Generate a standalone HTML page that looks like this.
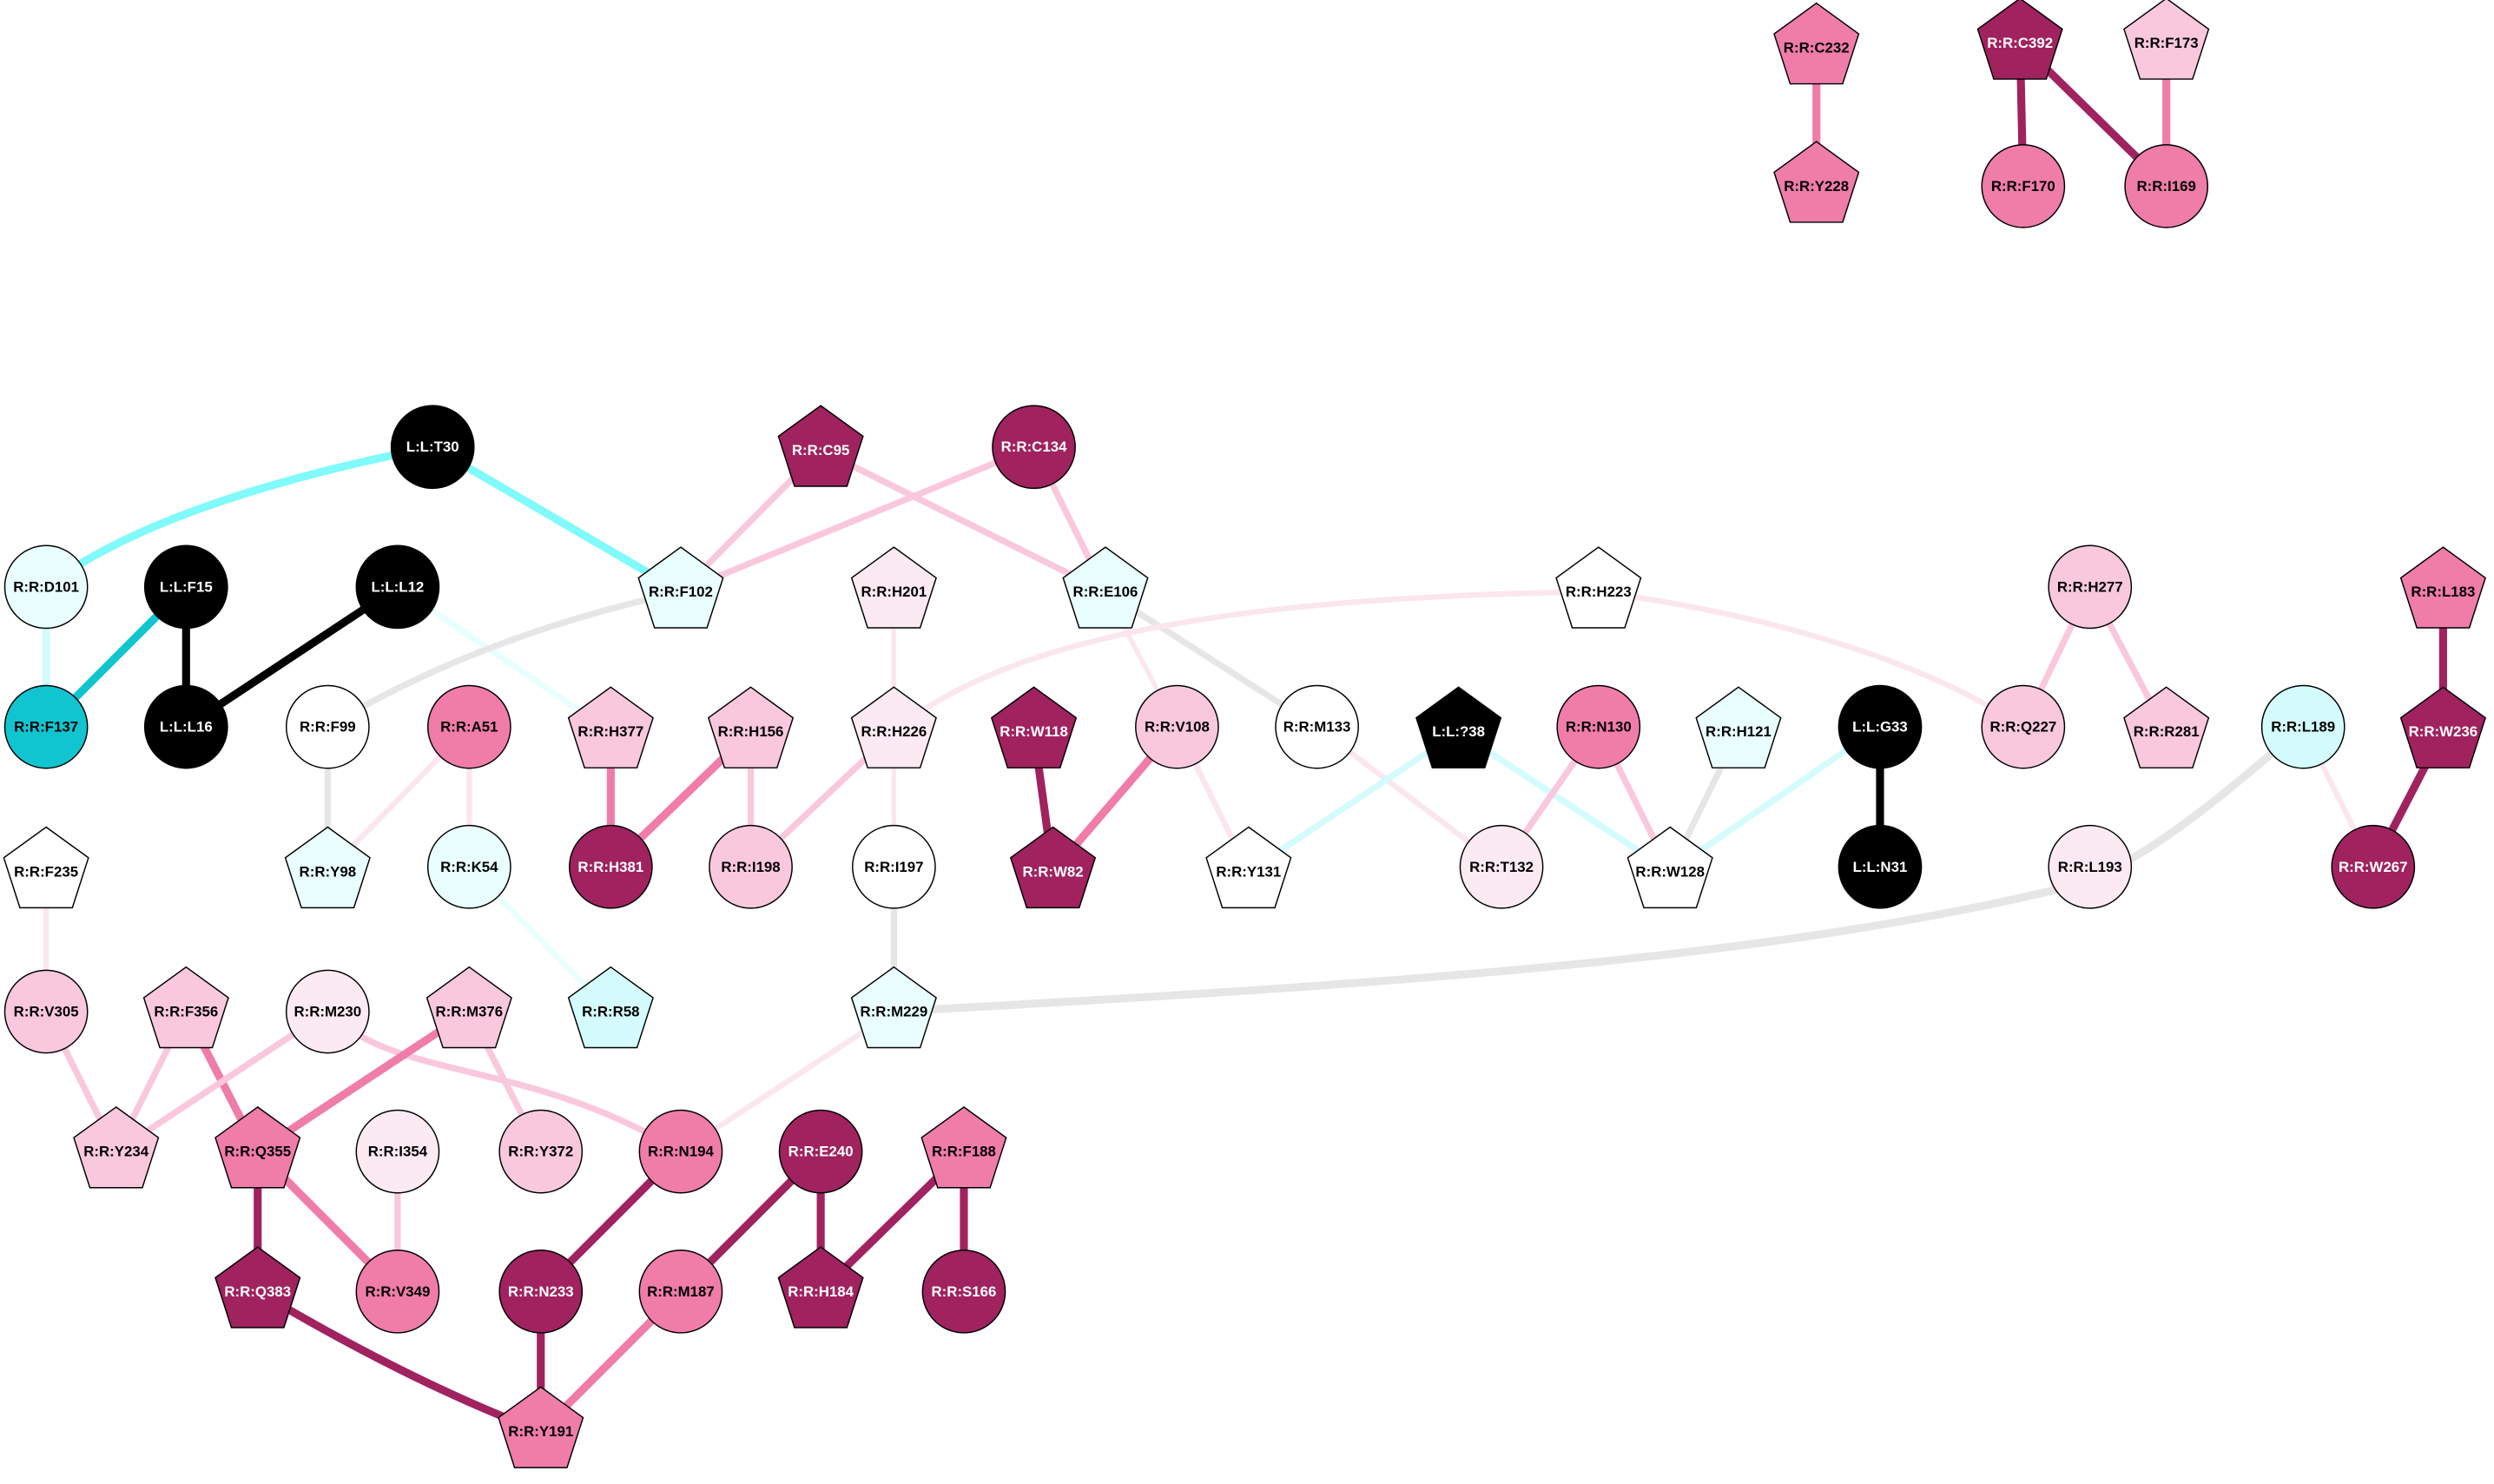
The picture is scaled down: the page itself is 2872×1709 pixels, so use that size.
<!DOCTYPE html>
<html><head><meta charset="utf-8"><style>
html,body{margin:0;padding:0;background:#fff}
svg{display:block}
text{font-family:"Liberation Sans",Arial,sans-serif;font-weight:bold;font-size:9.2px;text-anchor:middle;dominant-baseline:central}
.w{fill:#fff}
line,path{fill:none;stroke-linecap:butt}
circle,polygon{stroke:#000;stroke-width:0.8}
</style></head><body>
<svg width="2872" height="1709" viewBox="0 0 1568 933" xmlns="http://www.w3.org/2000/svg">
<defs>
<polygon id="p" points="0,-28 26.6,-8.7 16.5,22.7 -16.5,22.7 -26.6,-8.7"/>
</defs>
<g id="edges">
<line x1="1142" y1="30" x2="1142" y2="117" stroke="#f07ca8" stroke-width="5"/>
<line x1="1270" y1="27" x2="1272" y2="117" stroke="#a0225f" stroke-width="5"/>
<line x1="1270" y1="27" x2="1362" y2="117" stroke="#a0225f" stroke-width="5"/>
<line x1="1362" y1="27" x2="1362" y2="117" stroke="#f07ca8" stroke-width="5"/>
<path d="M29 369 Q 100 315 272 281" stroke="#80fafa" stroke-width="5"/>
<line x1="272" y1="281" x2="428" y2="372" stroke="#80fafa" stroke-width="5"/>
<line x1="29" y1="369" x2="29" y2="457" stroke="#d4fcfc" stroke-width="5"/>
<line x1="117" y1="369" x2="29" y2="457" stroke="#10c5d0" stroke-width="5"/>
<line x1="117" y1="369" x2="117" y2="457" stroke="#000" stroke-width="5"/>
<line x1="250" y1="369" x2="117" y2="457" stroke="#000" stroke-width="5"/>
<line x1="250" y1="369" x2="384" y2="460" stroke="#e9fefe" stroke-width="4"/>
<line x1="516" y1="283" x2="428" y2="372" stroke="#f9c8dc" stroke-width="4"/>
<line x1="516" y1="283" x2="695" y2="372" stroke="#f9c8dc" stroke-width="4"/>
<line x1="650" y1="281" x2="428" y2="372" stroke="#f9c8dc" stroke-width="4"/>
<line x1="650" y1="281" x2="695" y2="372" stroke="#f9c8dc" stroke-width="4"/>
<path d="M428 372 Q 300 400 206 457" stroke="#e6e6e6" stroke-width="4"/>
<line x1="695" y1="372" x2="828" y2="457" stroke="#e6e6e6" stroke-width="4"/>
<line x1="695" y1="372" x2="740" y2="457" stroke="#fbe6ef" stroke-width="3"/>
<line x1="562" y1="372" x2="562" y2="460" stroke="#fbe6ef" stroke-width="3"/>
<path d="M1005 372 C 800 375 640 395 562 460" stroke="#fbe6ef" stroke-width="3.5"/>
<path d="M1005 372 C 1100 385 1200 410 1272 457" stroke="#fbe6ef" stroke-width="3.5"/>
<line x1="1314" y1="369" x2="1272" y2="457" stroke="#f9c8dc" stroke-width="4"/>
<line x1="1314" y1="369" x2="1362" y2="460" stroke="#f9c8dc" stroke-width="4"/>
<line x1="1536" y1="372" x2="1536" y2="460" stroke="#a0225f" stroke-width="5"/>
<line x1="1536" y1="460" x2="1492" y2="545" stroke="#a0225f" stroke-width="5"/>
<line x1="1448" y1="457" x2="1492" y2="545" stroke="#fbe6ef" stroke-width="3.5"/>
<path d="M1448 457 C 1380 515 1340 548 1290 560 C 1100 605 850 620 562 636" stroke="#e6e6e6" stroke-width="5"/>
<line x1="206" y1="457" x2="206" y2="548" stroke="#e6e6e6" stroke-width="4"/>
<line x1="295" y1="457" x2="206" y2="548" stroke="#fbe6ef" stroke-width="3.5"/>
<line x1="295" y1="457" x2="295" y2="545" stroke="#fbe6ef" stroke-width="3.5"/>
<line x1="295" y1="545" x2="384" y2="636" stroke="#e9fefe" stroke-width="3.5"/>
<line x1="384" y1="460" x2="384" y2="545" stroke="#f07ca8" stroke-width="5"/>
<line x1="472" y1="460" x2="384" y2="545" stroke="#f07ca8" stroke-width="5"/>
<line x1="472" y1="460" x2="472" y2="545" stroke="#f9c8dc" stroke-width="4"/>
<line x1="562" y1="460" x2="472" y2="545" stroke="#f9c8dc" stroke-width="4"/>
<line x1="562" y1="460" x2="562" y2="545" stroke="#fbe6ef" stroke-width="3"/>
<line x1="562" y1="545" x2="562" y2="636" stroke="#e6e6e6" stroke-width="4"/>
<line x1="650" y1="460" x2="662" y2="548" stroke="#a0225f" stroke-width="5"/>
<line x1="740" y1="457" x2="662" y2="548" stroke="#f07ca8" stroke-width="5"/>
<line x1="740" y1="457" x2="785" y2="548" stroke="#fbe6ef" stroke-width="3.5"/>
<line x1="828" y1="457" x2="944" y2="545" stroke="#fbe6ef" stroke-width="3.5"/>
<line x1="917" y1="460" x2="785" y2="548" stroke="#d4fcfc" stroke-width="4"/>
<line x1="917" y1="460" x2="1050" y2="548" stroke="#d4fcfc" stroke-width="4"/>
<line x1="1005" y1="457" x2="944" y2="545" stroke="#f9c8dc" stroke-width="4"/>
<line x1="1005" y1="457" x2="1050" y2="548" stroke="#f9c8dc" stroke-width="4"/>
<line x1="1093" y1="460" x2="1050" y2="548" stroke="#e6e6e6" stroke-width="4"/>
<line x1="1182" y1="457" x2="1050" y2="548" stroke="#d4fcfc" stroke-width="4"/>
<line x1="1182" y1="457" x2="1182" y2="545" stroke="#000" stroke-width="5"/>
<line x1="29" y1="548" x2="29" y2="636" stroke="#fbe6ef" stroke-width="3.5"/>
<line x1="29" y1="636" x2="73" y2="724" stroke="#f9c8dc" stroke-width="4"/>
<line x1="117" y1="636" x2="73" y2="724" stroke="#f9c8dc" stroke-width="4"/>
<line x1="117" y1="636" x2="162" y2="724" stroke="#f07ca8" stroke-width="5"/>
<line x1="206" y1="636" x2="73" y2="724" stroke="#f9c8dc" stroke-width="4"/>
<path d="M206 636 C 250 680 330 665 428 724" stroke="#f9c8dc" stroke-width="4"/>
<line x1="295" y1="636" x2="162" y2="724" stroke="#f07ca8" stroke-width="5"/>
<line x1="295" y1="636" x2="340" y2="724" stroke="#f9c8dc" stroke-width="4"/>
<line x1="562" y1="636" x2="428" y2="724" stroke="#fbe6ef" stroke-width="3.5"/>
<line x1="162" y1="724" x2="162" y2="812" stroke="#a0225f" stroke-width="5"/>
<line x1="162" y1="724" x2="250" y2="812" stroke="#f07ca8" stroke-width="5"/>
<line x1="250" y1="724" x2="250" y2="812" stroke="#f9c8dc" stroke-width="4"/>
<line x1="428" y1="724" x2="340" y2="812" stroke="#a0225f" stroke-width="5"/>
<line x1="516" y1="724" x2="428" y2="812" stroke="#a0225f" stroke-width="5"/>
<line x1="516" y1="724" x2="516" y2="812" stroke="#a0225f" stroke-width="5"/>
<line x1="606" y1="724" x2="516" y2="812" stroke="#a0225f" stroke-width="5"/>
<line x1="606" y1="724" x2="606" y2="812" stroke="#a0225f" stroke-width="5"/>
<path d="M162 812 Q 260 870 340 900" stroke="#a0225f" stroke-width="5"/>
<line x1="340" y1="812" x2="340" y2="900" stroke="#a0225f" stroke-width="5"/>
<line x1="428" y1="812" x2="340" y2="900" stroke="#f07ca8" stroke-width="5"/>
</g>
<g id="nodes">
<use href="#p" x="1142" y="30" fill="#f07ca8"/><text x="1142" y="30">R:R:C232</text>
<use href="#p" x="1142" y="117" fill="#f07ca8"/><text x="1142" y="117">R:R:Y228</text>
<use href="#p" x="1270" y="27" fill="#a0225f"/><text class="w" x="1270" y="27">R:R:C392</text>
<use href="#p" x="1362" y="27" fill="#f9c8dc"/><text x="1362" y="27">R:R:F173</text>
<circle cx="1272" cy="117" r="26" fill="#f07ca8"/><text x="1272" y="117">R:R:F170</text>
<circle cx="1362" cy="117" r="26" fill="#f07ca8"/><text x="1362" y="117">R:R:I169</text>

<circle cx="272" cy="281" r="26" fill="#000"/><text class="w" x="272" y="281">L:L:T30</text>
<use href="#p" x="516" y="283" fill="#a0225f"/><text class="w" x="516" y="283">R:R:C95</text>
<circle cx="650" cy="281" r="26" fill="#a0225f"/><text class="w" x="650" y="281">R:R:C134</text>

<circle cx="29" cy="369" r="26" fill="#e9fefe"/><text x="29" y="369">R:R:D101</text>
<circle cx="117" cy="369" r="26" fill="#000"/><text class="w" x="117" y="369">L:L:F15</text>
<circle cx="250" cy="369" r="26" fill="#000"/><text class="w" x="250" y="369">L:L:L12</text>
<use href="#p" x="428" y="372" fill="#e9fefe"/><text x="428" y="372">R:R:F102</text>
<use href="#p" x="562" y="372" fill="#fbeaf2"/><text x="562" y="372">R:R:H201</text>
<use href="#p" x="695" y="372" fill="#e9fefe"/><text x="695" y="372">R:R:E106</text>
<use href="#p" x="1005" y="372" fill="#fff"/><text x="1005" y="372">R:R:H223</text>
<circle cx="1314" cy="369" r="26" fill="#f9c8dc"/><text x="1314" y="369">R:R:H277</text>
<use href="#p" x="1536" y="372" fill="#f07ca8"/><text x="1536" y="372">R:R:L183</text>

<circle cx="29" cy="457" r="26" fill="#10c5d0"/><text x="29" y="457">R:R:F137</text>
<circle cx="117" cy="457" r="26" fill="#000"/><text class="w" x="117" y="457">L:L:L16</text>
<circle cx="206" cy="457" r="26" fill="#fff"/><text x="206" y="457">R:R:F99</text>
<circle cx="295" cy="457" r="26" fill="#f07ca8"/><text x="295" y="457">R:R:A51</text>
<use href="#p" x="384" y="460" fill="#f9c8dc"/><text x="384" y="460">R:R:H377</text>
<use href="#p" x="472" y="460" fill="#f9c8dc"/><text x="472" y="460">R:R:H156</text>
<use href="#p" x="562" y="460" fill="#fbeaf2"/><text x="562" y="460">R:R:H226</text>
<use href="#p" x="650" y="460" fill="#a0225f"/><text class="w" x="650" y="460">R:R:W118</text>
<circle cx="740" cy="457" r="26" fill="#f9c8dc"/><text x="740" y="457">R:R:V108</text>
<circle cx="828" cy="457" r="26" fill="#fff"/><text x="828" y="457">R:R:M133</text>
<use href="#p" x="917" y="460" fill="#000"/><text class="w" x="917" y="460">L:L:?38</text>
<circle cx="1005" cy="457" r="26" fill="#f07ca8"/><text x="1005" y="457">R:R:N130</text>
<use href="#p" x="1093" y="460" fill="#e9fefe"/><text x="1093" y="460">R:R:H121</text>
<circle cx="1182" cy="457" r="26" fill="#000"/><text class="w" x="1182" y="457">L:L:G33</text>
<circle cx="1272" cy="457" r="26" fill="#f9c8dc"/><text x="1272" y="457">R:R:Q227</text>
<use href="#p" x="1362" y="460" fill="#f9c8dc"/><text x="1362" y="460">R:R:R281</text>
<circle cx="1448" cy="457" r="26" fill="#d4fcfc"/><text x="1448" y="457">R:R:L189</text>
<use href="#p" x="1536" y="460" fill="#a0225f"/><text class="w" x="1536" y="460">R:R:W236</text>

<use href="#p" x="29" y="548" fill="#fff"/><text x="29" y="548">R:R:F235</text>
<use href="#p" x="206" y="548" fill="#e9fefe"/><text x="206" y="548">R:R:Y98</text>
<circle cx="295" cy="545" r="26" fill="#e9fefe"/><text x="295" y="545">R:R:K54</text>
<circle cx="384" cy="545" r="26" fill="#a0225f"/><text class="w" x="384" y="545">R:R:H381</text>
<circle cx="472" cy="545" r="26" fill="#f9c8dc"/><text x="472" y="545">R:R:I198</text>
<circle cx="562" cy="545" r="26" fill="#fff"/><text x="562" y="545">R:R:I197</text>
<use href="#p" x="662" y="548" fill="#a0225f"/><text class="w" x="662" y="548">R:R:W82</text>
<use href="#p" x="785" y="548" fill="#fff"/><text x="785" y="548">R:R:Y131</text>
<circle cx="944" cy="545" r="26" fill="#fbeaf2"/><text x="944" y="545">R:R:T132</text>
<use href="#p" x="1050" y="548" fill="#fff"/><text x="1050" y="548">R:R:W128</text>
<circle cx="1182" cy="545" r="26" fill="#000"/><text class="w" x="1182" y="545">L:L:N31</text>
<circle cx="1314" cy="545" r="26" fill="#fbeaf2"/><text x="1314" y="545">R:R:L193</text>
<circle cx="1492" cy="545" r="26" fill="#a0225f"/><text class="w" x="1492" y="545">R:R:W267</text>

<circle cx="29" cy="636" r="26" fill="#f9c8dc"/><text x="29" y="636">R:R:V305</text>
<use href="#p" x="117" y="636" fill="#f9c8dc"/><text x="117" y="636">R:R:F356</text>
<circle cx="206" cy="636" r="26" fill="#fbeaf2"/><text x="206" y="636">R:R:M230</text>
<use href="#p" x="295" y="636" fill="#f9c8dc"/><text x="295" y="636">R:R:M376</text>
<use href="#p" x="384" y="636" fill="#d4fcfc"/><text x="384" y="636">R:R:R58</text>
<use href="#p" x="562" y="636" fill="#e9fefe"/><text x="562" y="636">R:R:M229</text>

<use href="#p" x="73" y="724" fill="#f9c8dc"/><text x="73" y="724">R:R:Y234</text>
<use href="#p" x="162" y="724" fill="#f07ca8"/><text x="162" y="724">R:R:Q355</text>
<circle cx="250" cy="724" r="26" fill="#fbeaf2"/><text x="250" y="724">R:R:I354</text>
<circle cx="340" cy="724" r="26" fill="#f9c8dc"/><text x="340" y="724">R:R:Y372</text>
<circle cx="428" cy="724" r="26" fill="#f07ca8"/><text x="428" y="724">R:R:N194</text>
<circle cx="516" cy="724" r="26" fill="#a0225f"/><text class="w" x="516" y="724">R:R:E240</text>
<use href="#p" x="606" y="724" fill="#f07ca8"/><text x="606" y="724">R:R:F188</text>

<use href="#p" x="162" y="812" fill="#a0225f"/><text class="w" x="162" y="812">R:R:Q383</text>
<circle cx="250" cy="812" r="26" fill="#f07ca8"/><text x="250" y="812">R:R:V349</text>
<circle cx="340" cy="812" r="26" fill="#a0225f"/><text class="w" x="340" y="812">R:R:N233</text>
<circle cx="428" cy="812" r="26" fill="#f07ca8"/><text x="428" y="812">R:R:M187</text>
<use href="#p" x="516" y="812" fill="#a0225f"/><text class="w" x="516" y="812">R:R:H184</text>
<circle cx="606" cy="812" r="26" fill="#a0225f"/><text class="w" x="606" y="812">R:R:S166</text>

<use href="#p" x="340" y="900" fill="#f07ca8"/><text x="340" y="900">R:R:Y191</text>
</g>
</svg>
</body></html>
